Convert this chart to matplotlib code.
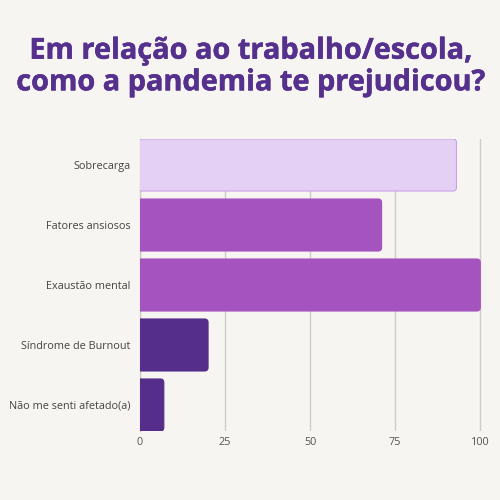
import matplotlib
matplotlib.use("Agg")
import matplotlib.pyplot as plt
import matplotlib.patheffects as pe
from matplotlib.patches import FancyBboxPatch

categories = ["Sobrecarga", "Fatores ansiosos", "Exaustão mental",
              "Síndrome de Burnout", "Não me senti afetado(a)"]
values = [93, 71, 100, 20, 7]
colors = ["#E4D0F5", "#A553BF", "#A553BF", "#552D8A", "#552D8A"]
edges = ["#C7A3E3", "#A553BF", "#A553BF", "#552D8A", "#552D8A"]
xticks = [0, 25, 50, 75, 100]
title = "Em relação ao trabalho/escola,\ncomo a pandemia te prejudicou?"

bg = "#F7F5F2"
fig = plt.figure(figsize=(5, 5), dpi=100, facecolor=bg)
ax_h = 292 / 500
ax_w = 342 / 500
ax = fig.add_axes([140 / 500, 1 - 431 / 500, ax_w, ax_h])
ax.set_facecolor(bg)

bh = 0.867
ypos = list(range(len(categories)))
bars = ax.barh(ypos, values, height=bh, color=colors)
xmax = 100.5
ax.set_xlim(0, xmax)
ylo, yhi = -bh / 2, len(categories) - 1 + bh / 2
ax.set_ylim(yhi, ylo)

# rounded bars
px_x = xmax / (ax_w * 500)
px_y = (yhi - ylo) / (ax_h * 500)
r = 3.5
for b, c, e in zip(bars, colors, edges):
    b.set_visible(False)
    x0, y0, w, h = b.get_x(), b.get_y(), b.get_width(), b.get_height()
    p = FancyBboxPatch((x0 - 2, y0), w + 2, h,
                       boxstyle=f"round,pad=0,rounding_size={r*px_x}",
                       mutation_aspect=px_y / px_x,
                       facecolor=c, edgecolor=e, linewidth=0.8, zorder=3)
    ax.add_patch(p)

ax.set_xticks(xticks)
ax.set_xticklabels([str(t) for t in xticks], fontsize=7.8, color="#555555",
                   family="Open Sans")
ax.set_yticks(ypos)
ax.set_yticklabels(categories, fontsize=7.8, color="#444444", family="Open Sans")
ax.tick_params(axis="y", length=0, pad=7)
ax.tick_params(axis="x", length=0, pad=4)
ax.grid(axis="x", color="#CFCCC8", linewidth=1, zorder=0)
ax.set_axisbelow(True)
for s in ["top", "right", "bottom"]:
    ax.spines[s].set_visible(False)
ax.spines["left"].set_color("#CFCCC8")
ax.spines["left"].set_linewidth(1)

tc = "#55308D"
fig.text(0.5, 1 - 67 / 500, title, ha="center", va="center", fontsize=20.8,
         fontweight="bold", color=tc, family="Open Sans",
         linespacing=1.12,
         path_effects=[pe.withStroke(linewidth=0.35, foreground=tc)])

fig.savefig("out.png", dpi=100, facecolor=bg)
